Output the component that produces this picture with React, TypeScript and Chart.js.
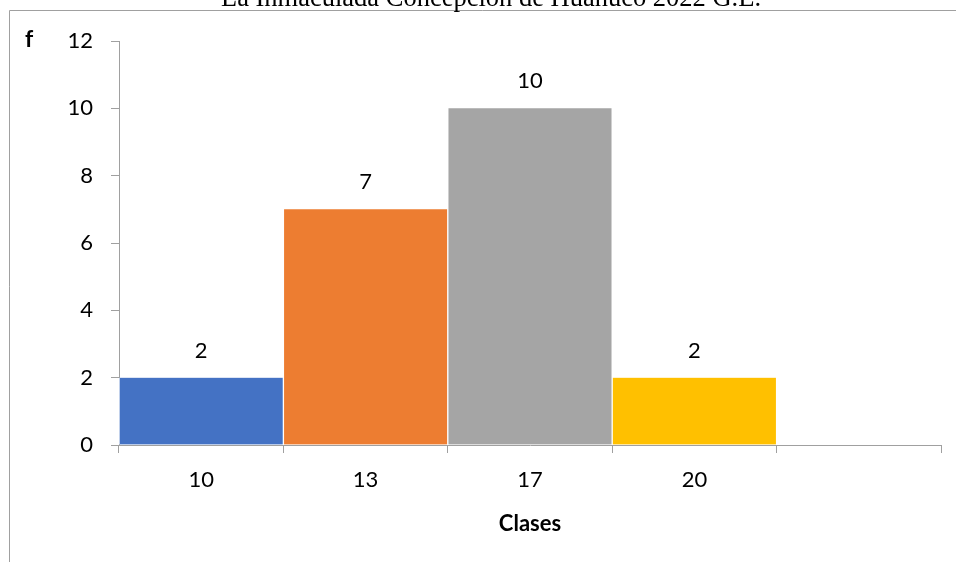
import React, { useEffect, useRef } from "react";
import { Chart, registerables } from "chart.js";

Chart.register(...registerables);

// Frequency histogram data
const classLabels = ["10", "13", "17", "20", ""];
const frequencies: (number | null)[] = [2, 7, 10, 2, null];
const barColors = ["#4472C4", "#ED7D31", "#A5A5A5", "#FFC000", "#FFFFFF"];
const yTickMin = 0;
const yTickMax = 12;
const yTickStep = 2;

const titleText = "La Inmaculada Concepción de Huánuco 2022 G.E.";
const yAxisLabel = "f";
const xAxisLabel = "Clases";

const FONT = "Lato, 'Noto Sans', sans-serif";
const AXIS_GRAY = "#A0A0A0";

const decorPlugin = {
  id: "decor",
  beforeDraw(chart: any) {
    const ctx = chart.ctx;
    ctx.save();
    // outer frame (left and top edges)
    ctx.strokeStyle = AXIS_GRAY;
    ctx.lineWidth = 1;
    ctx.beginPath();
    ctx.moveTo(9.5, chart.height);
    ctx.lineTo(9.5, 10.5);
    ctx.lineTo(chart.width, 10.5);
    ctx.stroke();
    // title, partly above the visible area
    ctx.fillStyle = "#000";
    ctx.font = "26.5px 'Liberation Serif', 'Times New Roman', serif";
    ctx.textAlign = "center";
    ctx.textBaseline = "alphabetic";
    ctx.fillText(titleText, 491, 6);
    // vertical axis label
    ctx.font = `bold 23px ${FONT}`;
    ctx.textBaseline = "middle";
    ctx.fillText(yAxisLabel, 29, 40);
    ctx.restore();
  },
  afterDatasetsDraw(chart: any) {
    const ctx = chart.ctx;
    const meta = chart.getDatasetMeta(0);
    ctx.save();
    ctx.fillStyle = "#000";
    ctx.font = `22px ${FONT}`;
    ctx.textAlign = "center";
    ctx.textBaseline = "middle";
    meta.data.forEach((bar: any, i: number) => {
      const v = frequencies[i];
      if (v === null || v === undefined) return;
      ctx.fillText(String(v), bar.x, bar.y - 27);
    });
    ctx.restore();
  },
};

export default function App() {
  const canvasRef = useRef<HTMLCanvasElement | null>(null);

  useEffect(() => {
    if (!canvasRef.current) return;
    const chart = new Chart(canvasRef.current, {
      type: "bar",
      data: {
        labels: classLabels,
        datasets: [
          {
            data: frequencies,
            backgroundColor: barColors,
            borderColor: "#FFFFFF",
            borderWidth: { left: 1, right: 1, top: 0, bottom: 0 },
            borderSkipped: false,
            categoryPercentage: 1,
            barPercentage: 1,
          },
        ],
      },
      options: {
        animation: false,
        responsive: false,
        layout: { padding: { left: 0, right: 15, top: 41, bottom: 0 } },
        plugins: {
          legend: { display: false },
          tooltip: { enabled: false },
        },
        scales: {
          x: {
            z: 1,
            grid: {
              display: true,
              drawOnChartArea: false,
              drawTicks: true,
              tickLength: 8,
              color: AXIS_GRAY,
              offset: true,
            },
            border: { display: true, color: AXIS_GRAY, width: 1 },
            ticks: {
              color: "#000",
              font: { family: FONT, size: 22 },
              padding: 14,
              maxRotation: 0,
            },
            title: {
              display: true,
              text: xAxisLabel,
              color: "#000",
              font: { family: FONT, size: 22, weight: "bold" },
              padding: { top: 0, bottom: 25 },
            },
            afterFit(scale: any) {
              scale.height = 117;
            },
          },
          y: {
            min: yTickMin,
            max: yTickMax,
            grid: {
              display: true,
              drawOnChartArea: false,
              drawTicks: true,
              tickLength: 8,
              color: AXIS_GRAY,
            },
            border: { display: true, color: AXIS_GRAY, width: 1 },
            ticks: {
              stepSize: yTickStep,
              color: "#000",
              font: { family: FONT, size: 22 },
              padding: 18,
            },
            afterFit(scale: any) {
              scale.width = 119;
            },
          },
        },
      },
      plugins: [decorPlugin],
    });
    return () => chart.destroy();
  }, []);

  return (
    <div style={{ position: "absolute", left: 0, top: 0, width: 956, height: 562, background: "#fff" }}>
      <canvas ref={canvasRef} width={956} height={562} />
    </div>
  );
}
